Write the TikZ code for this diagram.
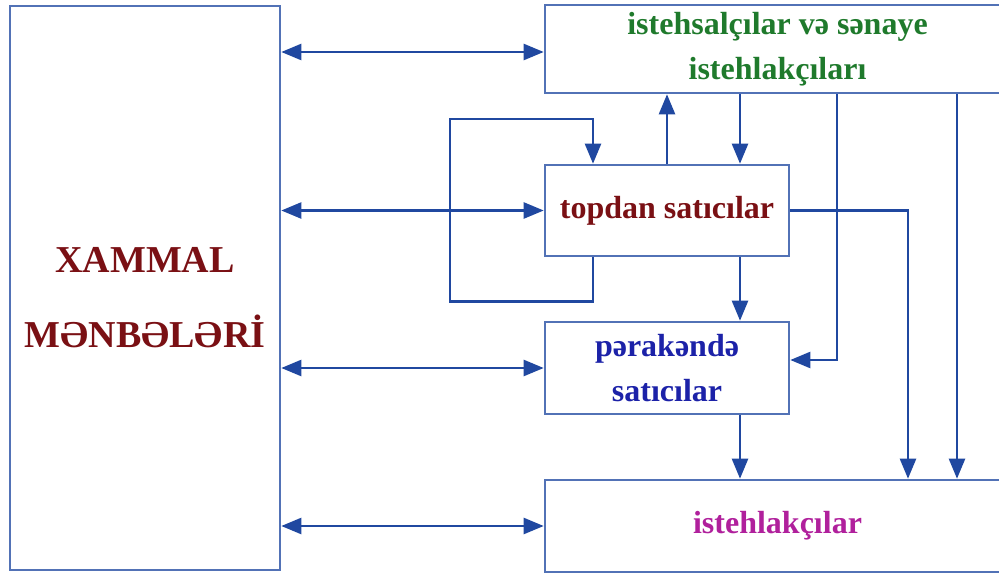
\documentclass[tikz,border=0pt]{standalone}
\usepackage{fontspec}
\setmainfont{Liberation Serif}
\usetikzlibrary{arrows.meta}

\definecolor{boxblue}{HTML}{5272B6}
\definecolor{arrblue}{HTML}{2048A0}
\definecolor{srcred}{HTML}{7A1014}
\definecolor{prodgreen}{HTML}{1F7A2C}
\definecolor{retblue}{HTML}{1C22A8}
\definecolor{conspink}{HTML}{B0209C}

\begin{document}
\begin{tikzpicture}[x=1pt,y=-1pt,
    box/.style={draw=boxblue,line width=2.6pt,inner sep=0pt},
    lbl/.style={align=center,font=\bfseries\fontsize{32}{45}\selectfont},
    conn/.style={draw=arrblue,line width=2.4pt,-{Triangle[length=20pt,width=16pt]}},
    dconn/.style={conn,{Triangle[length=20pt,width=16pt]}-{Triangle[length=20pt,width=16pt]}}]

    \clip (0,0) rectangle (999,575);

    \node[box,minimum width=270pt,minimum height=564pt] (src) at (145,288) {};
    \node[lbl,text=srcred,font=\bfseries\fontsize{38}{75}\selectfont] (srctxt) at (145,298) {XAMMAL\\MƏNBƏLƏRİ};

    \node[box,lbl,text=prodgreen,minimum width=465pt,minimum height=88pt] (prod) at (777.5,49) {istehsalçılar və sənaye\\istehlakçıları};
    \node[box,lbl,text=srcred,minimum width=244pt,minimum height=91pt] (whole) at (667,210.5) {topdan satıcılar};
    \node[box,lbl,text=retblue,minimum width=244pt,minimum height=92pt] (retail) at (667,368) {pərakəndə\\satıcılar};
    \node[box,lbl,text=conspink,minimum width=465pt,minimum height=92pt] (cons) at (777.5,526) {istehlakçılar};

    % columns of the long connectors
    \coordinate (c1) at (837,0);
    \coordinate (c2) at (908,0);
    \coordinate (c3) at (957,0);
    \coordinate (loop) at (450,119);

    \draw[dconn] (src.east |- 0,52) -- ([yshift=-3pt]prod.west);
    \foreach \n in {whole,retail,cons}{
        \draw[dconn] (src.east |- \n.west) -- (\n.west);
    }

    \draw[conn] ([xshift=-74pt]whole.south) -- ++(0,44) -| (loop) -| ([xshift=-74pt]whole.north);
    \draw[conn] (whole.north) -- (whole.north |- prod.south);
    \draw[conn] ([xshift=73pt]whole.north |- prod.south) -- ([xshift=73pt]whole.north);
    \draw[conn] ([xshift=73pt]whole.south) -- ([xshift=73pt]retail.north);
    \draw[conn] ([xshift=73pt]retail.south) -- ([xshift=73pt]retail.south |- cons.north);

    \draw[conn] (prod.south -| c1) |- ([yshift=8pt]retail.east);
    \draw[conn] (whole.east) -| (cons.north -| c2);
    \draw[conn] (prod.south -| c3) -- (cons.north -| c3);

\end{tikzpicture}
\end{document}
